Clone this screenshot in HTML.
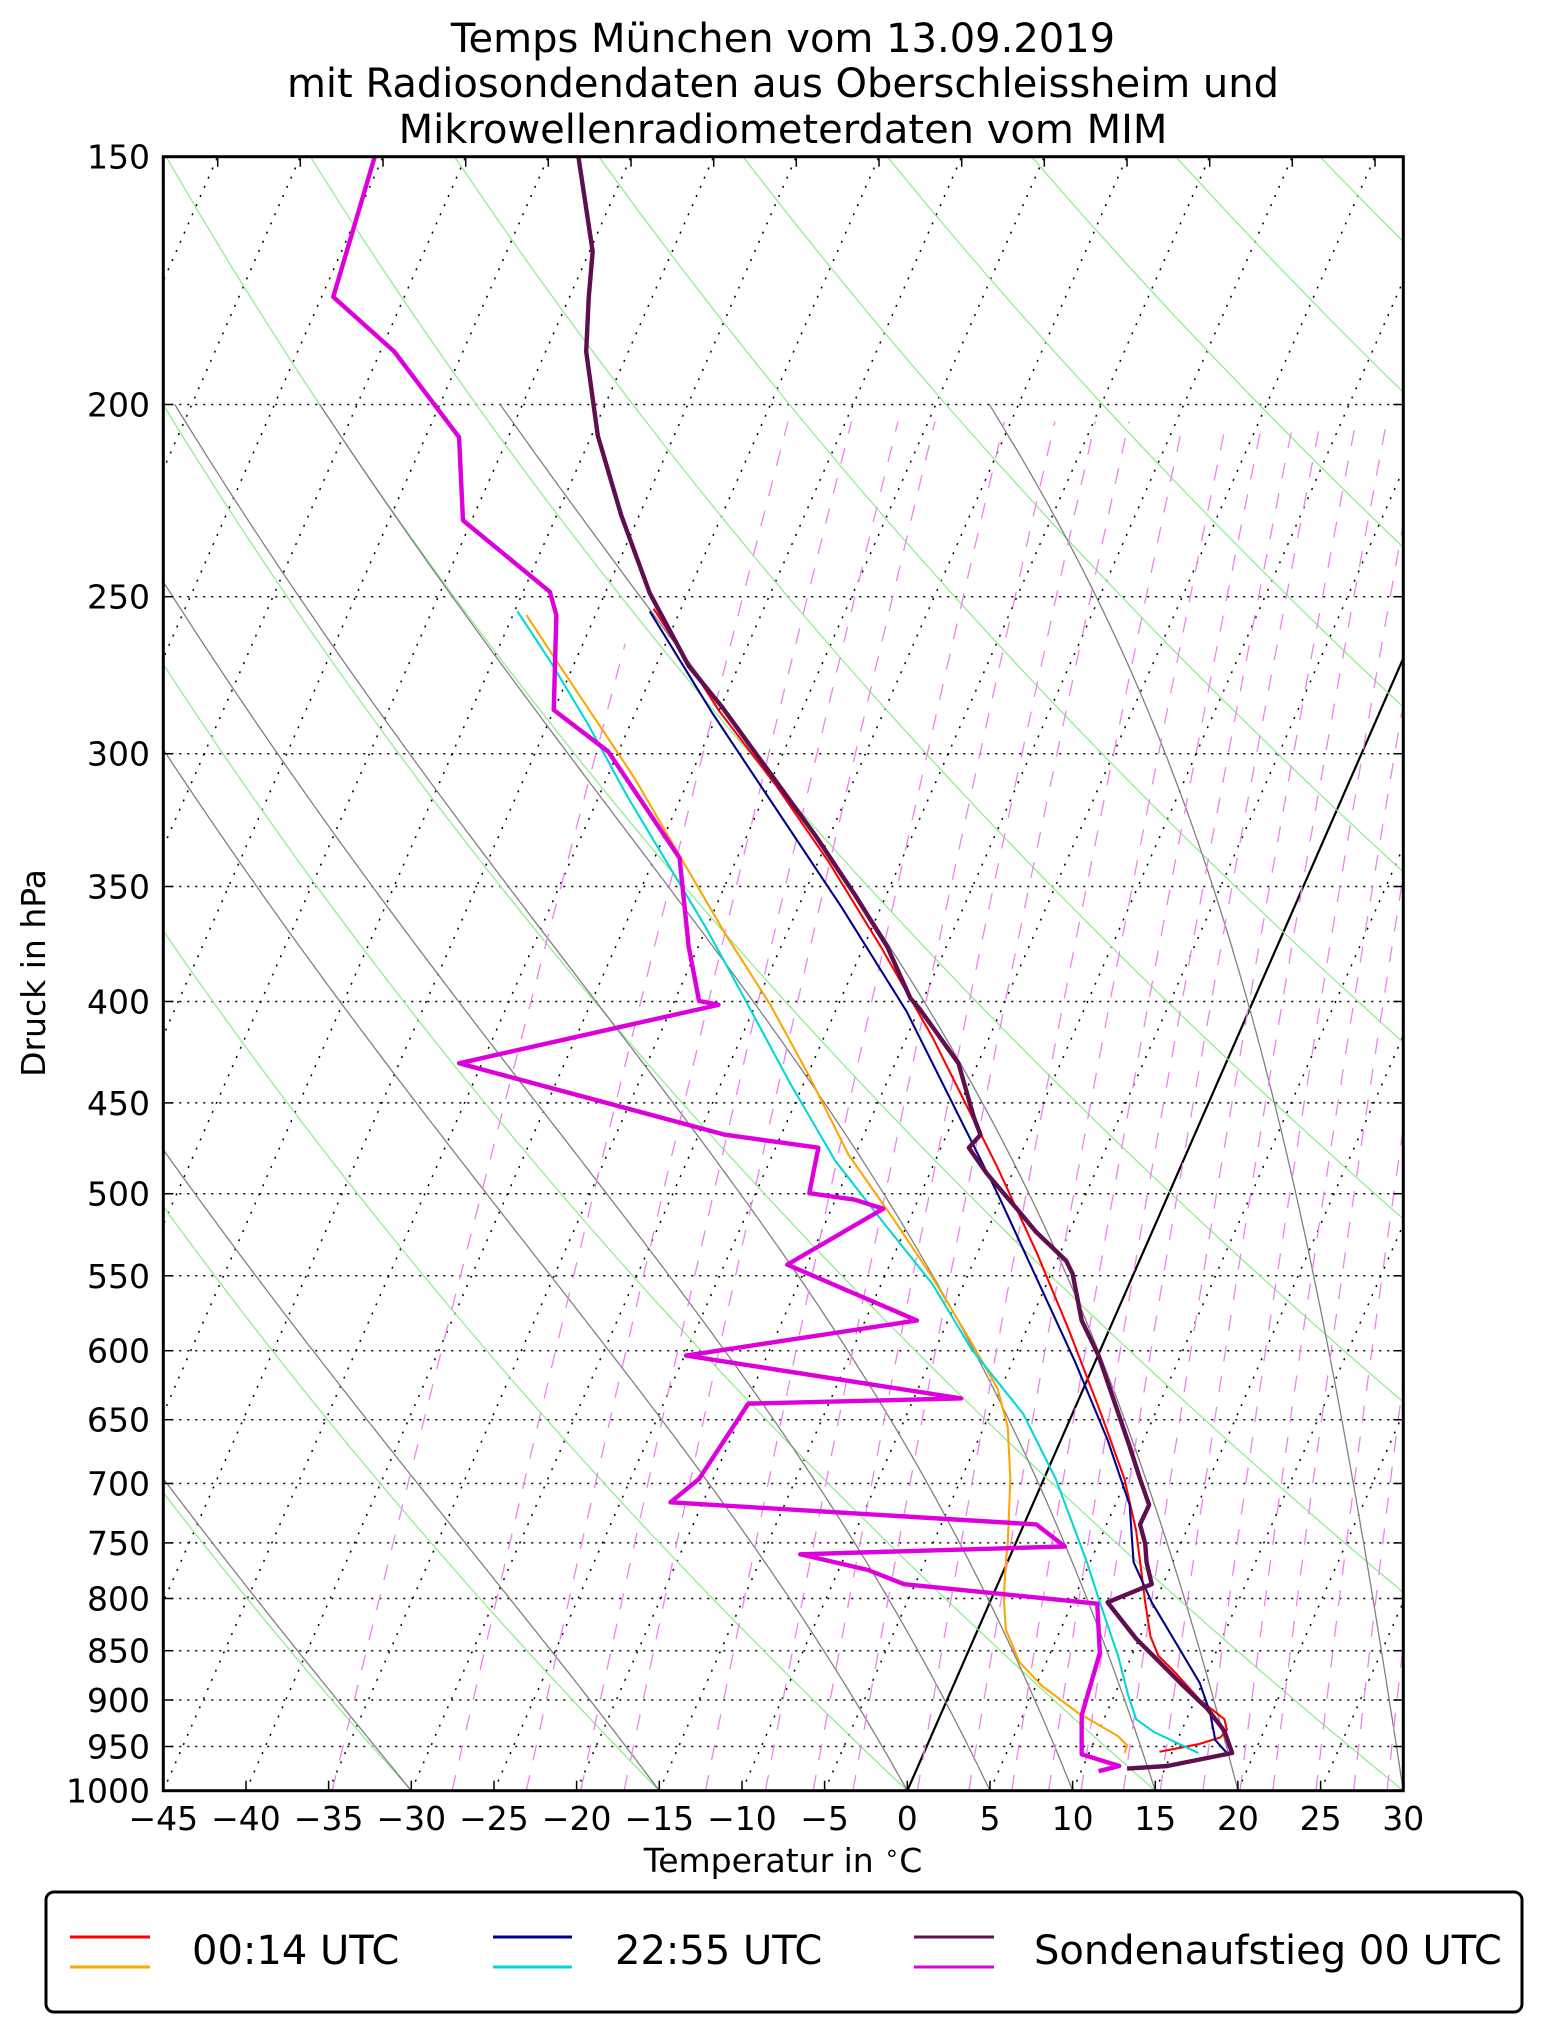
<!DOCTYPE html>
<html><head><meta charset="utf-8">
<style>
html,body{margin:0;padding:0;background:#fff;}
svg{display:block;font-family:"DejaVu Sans","Liberation Sans",sans-serif;}
</style></head>
<body>
<svg id="s" width="1542" height="2032" viewBox="0 0 1542 2032" xmlns="http://www.w3.org/2000/svg">
<defs><clipPath id="c"><rect x="163.3" y="156.7" width="1240" height="1634"/></clipPath></defs>
<rect width="1542" height="2032" fill="#fff"/>
<g id="bg" clip-path="url(#c)"></g>
<g clip-path="url(#c)">
<g id="data" transform="translate(-1.4,-1.8) scale(1.2971,1.2989)" fill="none" stroke-linejoin="round">
<polyline stroke="#ff0000" stroke-width="1.6" points="505,470 555,548 600,607 640,665 680,730 720,800 745,850 770,900 800,965 825,1025 850,1090 868,1140 877,1180 884,1235 888,1261 894,1276 908,1290 926,1310 945,1325 947,1333 942,1339 926,1344 895,1350"/>
<polyline stroke="#ffa500" stroke-width="1.6" points="407,475 430,510 458,552 490,600 525,660 560,720 595,775 625,830 655,890 690,940 720,985 750,1035 770,1070 778,1100 780,1140 778,1190 776.5,1204 775,1232 776.5,1256 787,1281 804,1299 832,1320 863,1338 870,1345 868,1351"/>
<polyline stroke="#00008b" stroke-width="1.6" points="502,472 550,550 600,625 650,700 700,780 740,860 770,920 800,985 830,1050 855,1110 872,1160 875,1204 889,1235 898,1250 926,1297 934,1320 938,1341 947,1351"/>
<polyline stroke="#00d8d8" stroke-width="1.6" points="400,472 425,510 455,560 485,615 515,665 545,715 575,770 610,835 645,895 680,940 720,990 750,1040 790,1090 815,1140 830,1180 839,1204 849,1235 863,1276 871,1307 877,1325 891,1335 925,1351"/>
<polyline stroke="#dd00dd" stroke-width="3.4" points="290,122 258,230 305,272 355,338 358,402 425,457 430,475 428,548 470,580 525,662 532,730 540,772 555,775 355,820 560,875 632,885 625,920 660,925 682,932 608,975 708,1018 530,1045 742,1078 578,1082 540,1140 518,1158 800,1175 822,1192 618,1198 670,1210 698,1221 847,1236 849,1274 835,1322 835,1352 864,1361 848,1365"/>
<polyline stroke="#5f0f4f" stroke-width="3.4" points="447,122 458,195 455,230 453,272 462,337 480,398 502,458 532,514 558,546 590,590 630,645 660,690 685,730 703,770 710,778 740,820 752,862 757,875 748,885 762,905 785,932 800,950 823,972 828,982 835,1018 848,1045 860,1080 872,1115 880,1140 887,1160 880,1175 884,1190 885,1204 889,1221 855,1235 877,1263 911,1297 932,1317 945,1334 951,1351 901,1361 870,1363"/>
</g></g>
<rect x="163.3" y="156.7" width="1240" height="1634" fill="none" stroke="#000" stroke-width="3"/>
<g id="ticks" stroke="#000" stroke-width="1.5"></g>
<g id="lbl" font-size="33" fill="#000"></g>
<g font-size="40" text-anchor="middle" fill="#000">
<text x="783" y="52">Temps München vom 13.09.2019</text>
<text x="783" y="97">mit Radiosondendaten aus Oberschleissheim und</text>
<text x="783" y="143">Mikrowellenradiometerdaten vom MIM</text>
</g>
<text x="783" y="1872" font-size="33" text-anchor="middle">Temperatur in <tspan font-size="24" dy="-11">∘</tspan><tspan dy="11">C</tspan></text>
<text transform="translate(45,973) rotate(-90)" font-size="33" text-anchor="middle">Druck in hPa</text>
<rect x="46" y="1892" width="1476" height="120" rx="8" fill="#fff" stroke="#000" stroke-width="3"/>
<g stroke-width="3">
<line x1="70" y1="1937" x2="150" y2="1937" stroke="#ff0000"/>
<line x1="70" y1="1967" x2="150" y2="1967" stroke="#ffa500"/>
<line x1="493" y1="1937" x2="572" y2="1937" stroke="#00008b"/>
<line x1="493" y1="1967" x2="572" y2="1967" stroke="#00d8d8"/>
<line x1="914" y1="1937" x2="994" y2="1937" stroke="#5f0f4f"/>
<line x1="914" y1="1967" x2="994" y2="1967" stroke="#dd00dd"/>
</g>
<g font-size="40" fill="#000">
<text x="192" y="1964">00:14 UTC</text>
<text x="615" y="1964">22:55 UTC</text>
<text x="1034" y="1964">Sondenaufstieg 00 UTC</text>
</g>
</svg>
<script>
(function(){
var L=163.3,R=1403.3,T0=156.7,B=1790.7,H=B-T0,LN=Math.log(1000/150),SK=0.438,PX=16.533;
function Y(p){return T0+H*Math.log(p/150)/LN;}
function X(t,p){return L+(t+45)*PX+SK*(B-Y(p));}
var bg=document.getElementById('bg'),NS='http://www.w3.org/2000/svg';
function path(d,attrs,parent){var e=document.createElementNS(NS,'path');e.setAttribute('d',d);e.setAttribute('fill','none');for(var k in attrs)e.setAttribute(k,attrs[k]);(parent||bg).appendChild(e);return e;}
function line(x1,y1,x2,y2,attrs,parent){path('M'+x1.toFixed(1)+','+y1.toFixed(1)+'L'+x2.toFixed(1)+','+y2.toFixed(1),attrs,parent);}
var ps=[150,200,250,300,350,400,450,500,550,600,650,700,750,800,850,900,950,1000];
ps.forEach(function(p){if(p==150||p==1000)return;line(L,Y(p),R,Y(p),{stroke:'#000','stroke-width':1.5,'stroke-dasharray':'2,6'});});
for(var t=-160;t<=30;t+=5){line(X(t,1000),Y(1000),X(t,150),Y(150),{stroke:'#000','stroke-width':1.5,'stroke-dasharray':'2,8'});}
line(X(0,1000),Y(1000),X(0,150),Y(150),{stroke:'#000','stroke-width':2.2});
for(var th=-150;th<=200;th+=15){var d='';for(var p=1000;p>=150;p-=10){var T=(th+273.15)*Math.pow(p/1000,0.2857)-273.15;d+=(d?'L':'M')+X(T,p).toFixed(1)+','+Y(p).toFixed(1);}path(d,{stroke:'#90ee90','stroke-width':1.3});}
function es(T){return 6.112*Math.exp(17.67*(T-273.15)/(T-29.65));}
function dTdp(T,p){var e=es(T),rs=0.622*e/(p-e),Rd=287.04,Cp=1005.7,Lv=2.501e6;return (Rd*T+Lv*rs)/(Cp+Lv*Lv*rs*0.622/(Rd*T*T))/p;}
[-45,-30,-15,0,5,10,15,20,30].forEach(function(t0){var T=t0+273.15,p=1000,d='M'+X(t0,1000).toFixed(1)+','+Y(1000).toFixed(1);var dp=-2;while(p>200){var k1=dTdp(T,p),k2=dTdp(T+k1*dp/2,p+dp/2),k3=dTdp(T+k2*dp/2,p+dp/2),k4=dTdp(T+k3*dp,p+dp);T+=dp*(k1+2*k2+2*k3+k4)/6;p+=dp;d+='L'+X(T-273.15,p).toFixed(1)+','+Y(p).toFixed(1);}path(d,{stroke:'#808080','stroke-width':1.3});});
[0.2,0.4,0.6,0.8,1,1.5,2,2.5,3,4,5,6,7,8,9.5,11,13,15,17,20,23,26,30,34,38].forEach(function(w){var d='';for(var p=1000;p>=204;p-=4){var e=w*p/(622+w),l=Math.log(e/6.112),Td=243.5*l/(17.67-l);if(Td<-47.5)break;d+=(d?'L':'M')+X(Td,p).toFixed(1)+','+Y(p).toFixed(1);}if(d)path(d,{stroke:'#ee82ee','stroke-width':1.3,'stroke-dasharray':'16,15'});});
var tk=document.getElementById('ticks'),lb=document.getElementById('lbl');
function txt(x,y,s,anchor){var e=document.createElementNS(NS,'text');e.setAttribute('x',x);e.setAttribute('y',y);e.setAttribute('text-anchor',anchor);e.textContent=s;lb.appendChild(e);}
for(var t=-45;t<=30;t+=5){var x=L+(t+45)*PX;line(x,B,x,B-10,{stroke:'#000','stroke-width':1.5},tk);txt(x,1830,(t<0?'\u2212'+(-t):''+t),'middle');}
for(var t=-85;t<=-5;t+=5){var x=X(t,150);if(x>L+2&&x<R-2)line(x,T0,x,T0+10,{stroke:'#000','stroke-width':1.5},tk);}
ps.forEach(function(p){var y=Y(p);line(L,y,L+10,y,{stroke:'#000','stroke-width':1.5},tk);line(R,y,R-10,y,{stroke:'#000','stroke-width':1.5},tk);txt(150,y+12,''+p,'end');});
})();
</script>
</body></html>
